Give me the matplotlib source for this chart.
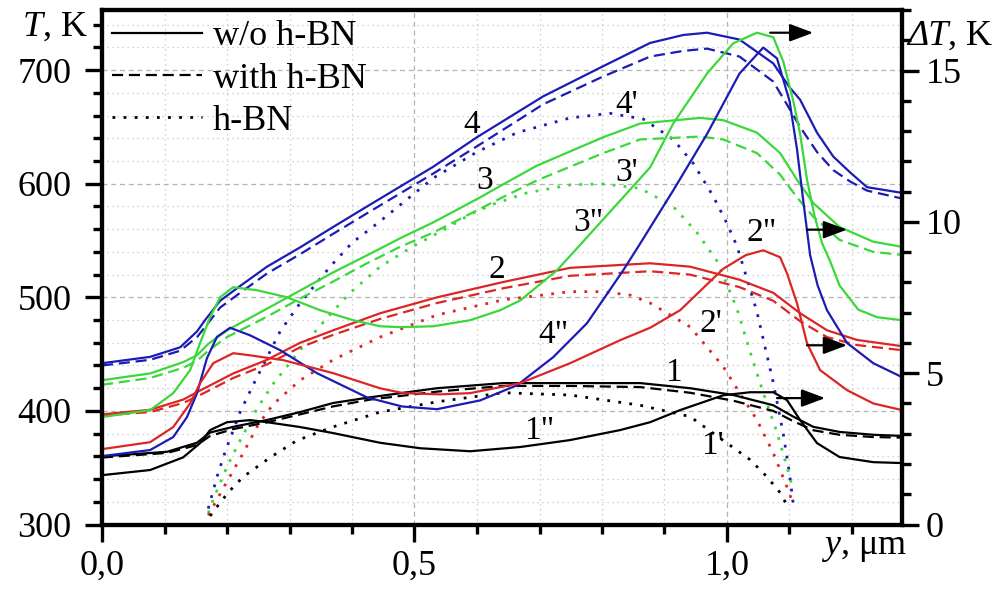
import matplotlib
matplotlib.use("Agg")
import matplotlib.pyplot as plt
from matplotlib.lines import Line2D
from matplotlib.ticker import MultipleLocator, FuncFormatter

plt.rcParams['font.family'] = ['Liberation Serif', 'DejaVu Serif']
plt.rcParams['mathtext.fontset'] = 'custom'
plt.rcParams['mathtext.rm'] = 'Liberation Serif'
plt.rcParams['mathtext.it'] = 'Liberation Serif:italic'

# ---- curve 4 (blue): T w/o h-BN, T with h-BN
x4 = [0, 0.077, 0.125, 0.152, 0.165, 0.189, 0.221, 0.264, 0.317, 0.37, 0.424, 0.53, 0.6, 0.706,
      0.8, 0.877, 0.93, 0.968, 1.02, 1.074, 1.10, 1.117, 1.144, 1.17, 1.197, 1.224, 1.28]
t4 = [442, 447.6, 456, 470, 480, 497, 510, 527, 544, 562, 580, 615, 641, 677,
      703, 724, 731, 733, 727, 706, 685, 674, 645, 624, 610, 597, 592]
t4d = [440, 445, 453, 465, 474, 491, 504, 521, 538, 556, 574, 609, 633, 670,
       694, 712, 717, 719, 712, 690, 666, 650, 628, 612, 602, 594, 587]
# h-BN (4')
x4p = [0.17, 0.184, 0.197, 0.221, 0.242, 0.285, 0.317, 0.365, 0.40, 0.445, 0.53, 0.6, 0.664, 0.749,
       0.813, 0.866, 0.914, 0.946, 0.978, 1.0, 1.016, 1.03, 1.048, 1.074, 1.09, 1.10, 1.106]
t4p = [314, 342, 364, 399, 423, 470, 495, 527, 548, 567, 605, 628, 645, 658,
       662, 657, 639, 618, 589, 565, 545, 520, 487, 425, 380, 345, 318]
# dT (4")
x4pp = [0, 0.077, 0.114, 0.136, 0.152, 0.168, 0.184, 0.205, 0.237, 0.285, 0.344, 0.424, 0.48, 0.536,
        0.605, 0.664, 0.722, 0.776, 0.834, 0.861, 0.914, 0.968, 1.02, 1.058, 1.08, 1.10, 1.112, 1.122,
        1.133, 1.145, 1.16, 1.192, 1.234, 1.28]
d4pp = [2.26, 2.46, 2.89, 3.55, 4.34, 5.5, 6.2, 6.5, 6.25, 5.76, 5.0, 4.2, 3.9, 3.81,
        4.1, 4.6, 5.53, 6.65, 8.4, 9.28, 11.04, 12.9, 14.9, 15.76, 15.4, 14.0, 12.4, 10.7,
        8.9, 7.9, 7.08, 6.0, 5.33, 4.87]

# ---- curve 3 (green)
x3 = [0, 0.077, 0.13, 0.152, 0.17, 0.2, 0.264, 0.317, 0.37, 0.424, 0.477, 0.53, 0.605, 0.637, 0.696,
      0.802, 0.861, 0.957, 0.994, 1.048, 1.085, 1.112, 1.138, 1.18, 1.234, 1.28]
t3 = [427, 433, 443, 449, 459, 471, 490, 506, 522, 537, 552, 566, 588, 598, 616,
      641, 653, 658, 656, 645, 627, 603.5, 583, 562, 549, 544.5]
t3d = [423, 429, 438, 444, 453, 465, 483, 499, 514, 530, 544.5, 557, 578, 587, 603,
       627, 639, 641.6, 639, 627, 608, 588, 571, 550.6, 540, 537.4]
x3p = [0.17, 0.178, 0.2, 0.221, 0.248, 0.274, 0.306, 0.338, 0.37, 0.397, 0.445, 0.498, 0.552, 0.589,
       0.626, 0.68, 0.749, 0.8, 0.861, 0.914, 0.952, 0.984, 1.016, 1.037, 1.058, 1.08, 1.096, 1.106]
t3p = [310, 322, 351, 374, 402, 424, 446, 468, 488, 504, 527, 545, 561, 573,
       582, 592, 599, 600, 596, 580, 557, 532, 490, 452, 416, 381, 351, 330]
x3pp = [0, 0.077, 0.114, 0.141, 0.157, 0.173, 0.189, 0.21, 0.248, 0.296, 0.349, 0.402, 0.445, 0.477,
        0.53, 0.589, 0.637, 0.669, 0.728, 0.776, 0.829, 0.877, 0.914, 0.968, 1.01, 1.048, 1.074, 1.09,
        1.106, 1.117, 1.128, 1.14, 1.152, 1.165, 1.18, 1.21, 1.24, 1.28]
d3pp = [3.55, 3.78, 4.34, 5.1, 6.0, 6.85, 7.51, 7.84, 7.74, 7.51, 7.08, 6.75, 6.55, 6.52,
        6.55, 6.75, 7.08, 7.4, 8.4, 9.49, 10.7, 11.8, 13.25, 14.9, 15.9, 16.25, 16.1, 15.3,
        14.0, 12.9, 11.4, 10.2, 9.3, 8.7, 7.9, 7.1, 6.85, 6.75]

# ---- curve 2 (red)
x2 = [0, 0.077, 0.13, 0.157, 0.21, 0.264, 0.317, 0.37, 0.445, 0.536, 0.642, 0.749, 0.877, 0.941,
      1.02, 1.074, 1.117, 1.16, 1.208, 1.28]
t2 = [397, 401, 410, 418, 433, 445, 460, 471, 486, 500, 513.5, 526, 530, 527,
      515.5, 504, 486, 471, 462.5, 457]
t2d = [396, 399, 407, 414, 429, 441, 456, 467, 481, 495, 508, 519, 523, 520,
       509, 497, 479, 465, 458, 453.5]
x2p = [0.17, 0.178, 0.194, 0.226, 0.25, 0.274, 0.317, 0.37, 0.445, 0.536, 0.642, 0.749, 0.8, 0.845,
       0.877, 0.941, 0.994, 1.02, 1.048, 1.074, 1.096, 1.104]
t2p = [308, 316, 332, 363, 388, 406, 427, 445, 465, 484.5, 497.8, 505, 505, 502,
       495, 474, 439, 416, 392, 363, 333, 321]
x2pp = [0, 0.077, 0.114, 0.141, 0.157, 0.178, 0.21, 0.237, 0.29, 0.37, 0.445, 0.482, 0.54, 0.589,
        0.669, 0.749, 0.829, 0.877, 0.925, 0.994, 1.03, 1.058, 1.085, 1.096, 1.112, 1.128, 1.149,
        1.192, 1.234, 1.28]
d2pp = [2.49, 2.72, 3.22, 4.0, 4.67, 5.33, 5.66, 5.59, 5.43, 5.0, 4.5, 4.34, 4.3, 4.34,
        4.67, 5.33, 6.09, 6.5, 7.08, 8.45, 8.9, 9.06, 8.83, 8.3, 7.31, 5.99, 5.1,
        4.44, 4.0, 3.78]

# ---- curve 1 (black)
x1 = [0, 0.104, 0.152, 0.173, 0.21, 0.264, 0.317, 0.37, 0.429, 0.536, 0.642, 0.749, 0.861, 0.941,
      1.01, 1.074, 1.106, 1.138, 1.18, 1.234, 1.28]
t1 = [360, 364, 372, 381, 386, 392, 399, 407, 412, 420, 424.5, 424.5, 424.5, 420,
      414, 405, 395, 386, 381.5, 379, 378]
t1d = [359, 363, 370, 378, 384, 390, 397, 404, 410, 417, 422, 422, 421, 416,
       409, 400, 391, 383, 379, 377, 376.5]
x1p = [0.173, 0.19, 0.205, 0.226, 0.269, 0.312, 0.37, 0.445, 0.536, 0.642, 0.749, 0.861, 0.941,
       0.994, 1.037, 1.064, 1.085, 1.096]
t1p = [307.5, 320, 330, 342, 359, 374, 386, 399, 408, 416, 414, 405, 395,
       374, 357, 342, 328, 317]
x1pp = [0, 0.077, 0.13, 0.157, 0.173, 0.2, 0.237, 0.264, 0.317, 0.37, 0.445, 0.509, 0.589, 0.669,
        0.749, 0.829, 0.877, 0.925, 0.994, 1.037, 1.074, 1.096, 1.117, 1.144, 1.18, 1.234, 1.28]
d1pp = [1.63, 1.80, 2.22, 2.69, 3.12, 3.38, 3.45, 3.38, 3.22, 3.02, 2.7, 2.52, 2.42, 2.56,
        2.79, 3.12, 3.38, 3.78, 4.27, 4.37, 4.37, 4.11, 3.45, 2.69, 2.23, 2.06, 2.03]

BLUE, GREEN, RED, BLACK = '#1c1cb4', '#3ad83a', '#dc2626', '#000000'
SOLID, DASHED, DOTTED = '-', (0, (5, 2.6)), (0, (1, 3))

fig = plt.figure(figsize=(10.04, 5.95), dpi=100)
ax = fig.add_axes([102 / 1004, 70.5 / 595, 800 / 1004, 514.5 / 595])
ax2 = ax.twinx()

groups = [
    (BLUE, x4, t4, t4d, x4p, t4p, x4pp, d4pp),
    (GREEN, x3, t3, t3d, x3p, t3p, x3pp, d3pp),
    (RED, x2, t2, t2d, x2p, t2p, x2pp, d2pp),
    (BLACK, x1, t1, t1d, x1p, t1p, x1pp, d1pp),
]
for col, xs, ts, tds, xp, tp, xpp, dpp in groups:
    ax.plot(xs, ts, color=col, ls=SOLID, lw=1.6)
    ax.plot(xs, tds, color=col, ls=DASHED, lw=1.6)
    ax.plot(xp, tp, color=col, ls=DOTTED, lw=2.0)
    ax2.plot(xpp, dpp, color=col, ls=SOLID, lw=1.6)

ax.set_xlim(0, 1.28)
ax.set_ylim(300, 753)
ax2.set_ylim(0, 17)

ax.xaxis.set_major_locator(MultipleLocator(0.5))
ax.xaxis.set_minor_locator(MultipleLocator(0.1))
ax.xaxis.set_major_formatter(FuncFormatter(lambda v, p: f"{v:.1f}".replace('.', ',')))
ax.yaxis.set_major_locator(MultipleLocator(100))
ax.yaxis.set_minor_locator(MultipleLocator(20))
ax2.yaxis.set_major_locator(MultipleLocator(5))
ax2.yaxis.set_minor_locator(MultipleLocator(1))

for a in (ax, ax2):
    for s in a.spines.values():
        s.set_linewidth(3)
    a.tick_params(which='major', direction='out', length=12, width=2.4, labelsize=26)
    a.tick_params(which='minor', direction='out', length=6.5, width=2.4)
ax.tick_params(axis='x', which='major', pad=6)
ax.tick_params(axis='y', which='major', pad=10)
ax2.tick_params(axis='y', which='major', pad=5)

ax.grid(which='major', ls=(0, (4, 3)), color='#b4b4b4', lw=0.9)
ax.grid(which='minor', ls=(0, (1, 3)), color='#c4c4c4', lw=0.9)
ax.set_axisbelow(True)

ax.text(-0.0175, 0.967, r'$T$, K', transform=ax.transAxes, ha='right', va='center', fontsize=26)
dt = ax.text(1.006, 0.949, 'ΔT', transform=ax.transAxes, ha='left', va='center',
             fontsize=26, fontstyle='italic')
ax.annotate(', K', xy=(1, 0.5), xycoords=dt, ha='left', va='center', fontsize=26)
ax.text(1.006, -0.045, r'$y$, μm', transform=ax.transAxes, ha='right', va='center', fontsize=26)

# curve labels
labels = ["4", "4'", "3", "3'", '3"', "2", '2"', "2'", '4"', "1", '1"', "1'"]
label_x = [0.592, 0.84, 0.613, 0.84, 0.778, 0.632, 1.056, 0.974, 0.723, 0.915, 0.699, 0.976]
label_t = [651.7, 670, 603, 610, 565.5, 524, 556.6, 476.5, 466.8, 433.4, 382.3, 369]
for s, lx, lt in zip(labels, label_x, label_t):
    ax2.text(lx, lt, s, transform=ax.transData, ha='center', va='center', fontsize=24)

# arrows pointing to the right axis
arrow_x0 = [1.069, 1.128, 1.128, 1.08]
arrow_x1 = [1.138, 1.192, 1.192, 1.157]
arrow_t = [733, 559.6, 457.8, 411.3]
for a0, a1, at in zip(arrow_x0, arrow_x1, arrow_t):
    ax2.annotate('', xy=(a1, at), xytext=(a0, at), xycoords=ax.transData, textcoords=ax.transData,
                 arrowprops=dict(arrowstyle='-|>,head_length=0.8,head_width=0.3', color='k',
                                 lw=1.6, shrinkA=0, shrinkB=0, mutation_scale=18))

handles = [Line2D([], [], color='k', ls=SOLID, lw=1.6),
           Line2D([], [], color='k', ls=DASHED, lw=1.6),
           Line2D([], [], color='k', ls=DOTTED, lw=2.0)]
ax2.legend(handles, ['w/o h-BN', 'with h-BN', 'h-BN'], loc='upper left',
           bbox_to_anchor=(112 / 1004, 1 - 20 / 595), bbox_transform=fig.transFigure,
           frameon=False, fontsize=26, handlelength=2.5, handletextpad=0.3,
           labelspacing=0.25, borderpad=0, borderaxespad=0)

fig.savefig('out.png', dpi=100)
